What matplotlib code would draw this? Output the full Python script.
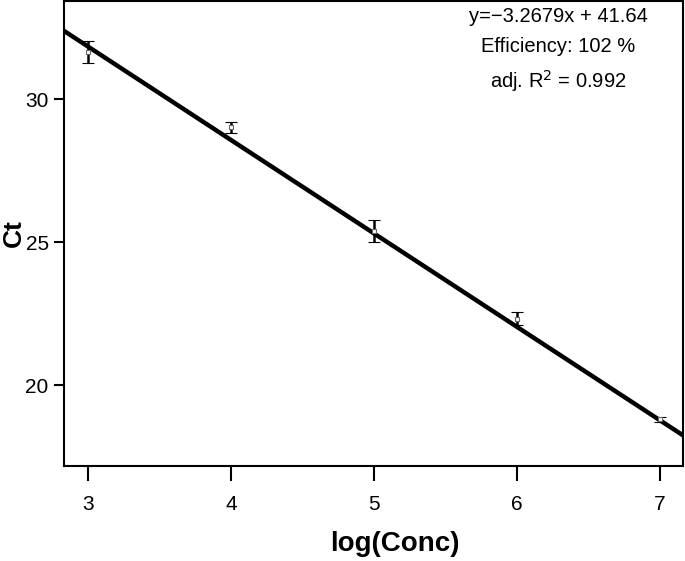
import numpy as np
import matplotlib
matplotlib.use("Agg")
import matplotlib.pyplot as plt

plt.rcParams['font.family'] = ['Liberation Sans', 'DejaVu Sans']

# datos
logConc = [3, 4, 5, 6, 7]
ctMedia = [31.65, 29.02, 25.38, 22.32, 18.80]
ctError = [0.38, 0.19, 0.38, 0.23, 0.10]

pendiente = -3.2679
intercepto = 41.64
eficiencia = 102
r2Ajustado = 0.992

fig = plt.figure(figsize=(6.85, 5.61), dpi=100)
ax = fig.add_axes([64 / 685, 95 / 561, 619 / 685, 465 / 561])

ax.errorbar(logConc, ctMedia, yerr=ctError, fmt='s', ms=3, mfc='white',
            mec='#666666', mew=0.8, ecolor='black', elinewidth=1.8,
            capsize=4.5, capthick=1.8, zorder=3)

xLinea = np.array([2.8, 7.2])
ax.plot(xLinea, pendiente * xLinea + intercepto, color='black', lw=3.2, zorder=2)

ax.set_xlim(2.832, 7.16)
ax.set_ylim(17.17, 33.43)
ax.set_xticks(logConc)
ax.set_yticks([20, 25, 30])

for lado in ax.spines.values():
    lado.set_linewidth(1.5)
ax.tick_params(axis='x', length=11, width=1.5, pad=10, labelsize=15, direction='out')
ax.tick_params(axis='y', length=7, width=1.5, pad=4, labelsize=15, direction='out')

ax.set_xlabel("log(Conc)", fontsize=20, fontweight='bold')
ax.xaxis.set_label_coords(0.535, -0.14)
ax.set_ylabel("Ct", fontsize=19, fontweight='bold')
ax.yaxis.set_label_coords(-0.062, 0.5)

lineas = ["y=\u22123.2679x + 41.64",
          "Efficiency: %d %%" % eficiencia,
          "adj. R$^2$ = %.3f" % r2Ajustado]
posY = [17, 47, 81]
for linea, y in zip(lineas, posY):
    ax.text(0.798, 1 - (y - 1) / 465, linea, transform=ax.transAxes,
            ha='center', va='center', fontsize=14.5)

fig.savefig("out.png", dpi=100)
